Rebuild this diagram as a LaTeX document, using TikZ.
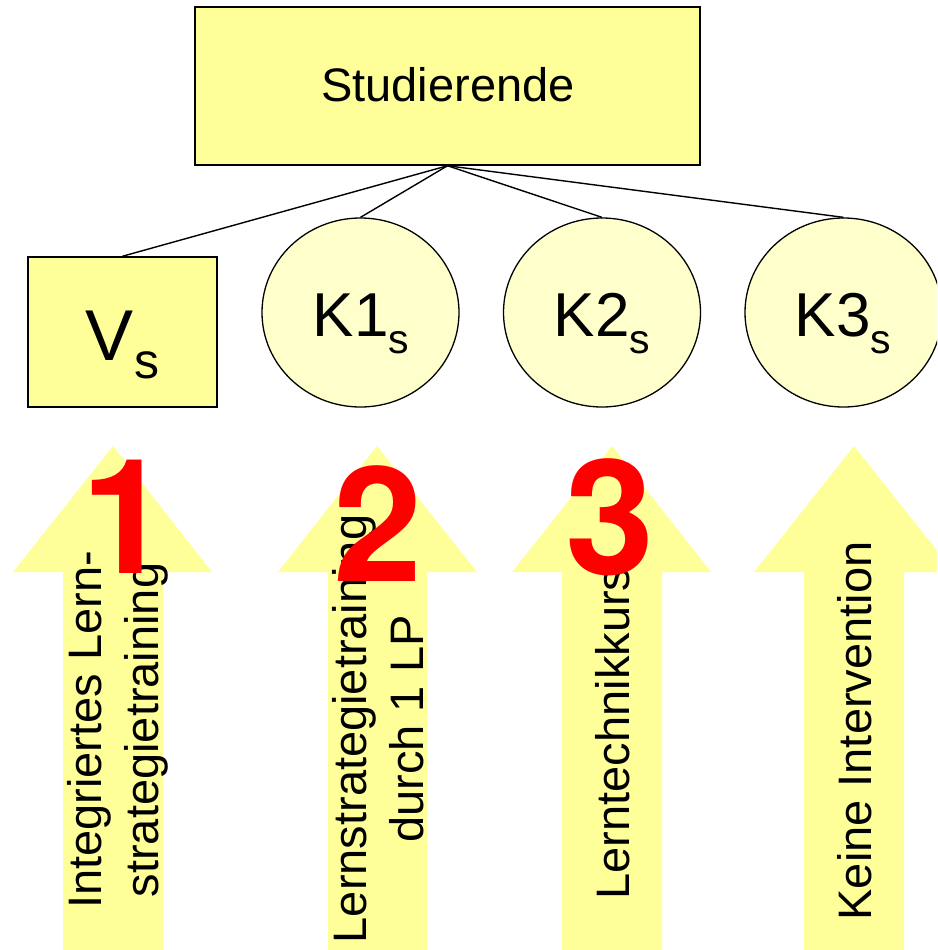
\documentclass[tikz,border=0pt]{standalone}
\usepackage{fontspec}
\setmainfont{Liberation Sans}
\newfontfamily\numfont{TeX Gyre Heros}
\usetikzlibrary{shapes.geometric}
\definecolor{boxy}{HTML}{FFFF99}
\definecolor{elly}{HTML}{FFFFCC}
\definecolor{arry}{HTML}{FFFF99}
\definecolor{numred}{HTML}{FF0000}
\newcommand{\subs}[2]{\raisebox{-#2pt}{\fontsize{#1}{#1}\selectfont s}}
\tikzset{
  boxnode/.style={draw=black, line width=1.5pt, fill=boxy, rectangle, inner sep=0pt},
  ellnode/.style={draw=black, line width=1.3pt, fill=elly, ellipse, inner sep=0pt, minimum width=197pt, minimum height=189pt},
  conn/.style={draw=black, line width=1.4pt},
  lbl/.style={inner sep=0pt, text=black},
  rotlbl/.style={inner sep=0pt, text=black, rotate=90, align=center, font=\fontsize{47}{57}\selectfont},
  arrowshape/.style={fill=arry, draw=none},
  numlbl/.style={inner sep=0pt, text=numred, font=\numfont\fontsize{160}{160}\selectfont\bfseries}
}
\begin{document}
\begin{tikzpicture}[x=1pt, y=-1pt]
\useasboundingbox (0,0) rectangle (937,950);
\clip (0,0) rectangle (937,950);
% top box
\node[boxnode, minimum width=505pt, minimum height=158pt] (top) at (447.5,86) {};
\node[lbl, anchor=base, font=\fontsize{47}{47}\selectfont] (toptxt) at (448,101) {Studierende};
% Vs box
\node[boxnode, minimum width=189pt, minimum height=150pt] (vs) at (122.5,332) {};
\node[lbl, anchor=base, font=\fontsize{72}{72}\selectfont] (vstxt) at (122.5,360) {V\subs{50}{18}};
% ellipses
\node[ellnode] (k1) at (360.5,312.5) {};
\node[ellnode] (k2) at (602,312.5) {};
\node[ellnode] (k3) at (843.5,312.5) {};
\node[lbl, anchor=base, font=\fontsize{62}{62}\selectfont] (k1txt) at (361,336) {K1\subs{41}{17}};
\node[lbl, anchor=base, font=\fontsize{62}{62}\selectfont] (k2txt) at (602,336) {K2\subs{41}{17}};
\node[lbl, anchor=base, font=\fontsize{62}{62}\selectfont] (k3txt) at (843,336) {K3\subs{41}{17}};
% connectors
\draw[conn] (top.south) -- (vs.north);
\draw[conn] (top.south) -- (k1.north);
\draw[conn] (top.south) -- (k2.north);
\draw[conn] (top.south) -- (k3.north);
% arrows
\fill[arrowshape] (113,446) -- (212,572) -- (163,572) -- (163,950) -- (63,950) -- (63,572) -- (13,572) -- cycle;
\fill[arrowshape] (377,446) -- (477,572) -- (427,572) -- (427,950) -- (328,950) -- (328,572) -- (278,572) -- cycle;
\fill[arrowshape] (612,446) -- (711,572) -- (662,572) -- (662,950) -- (562,950) -- (562,572) -- (512,572) -- cycle;
\fill[arrowshape] (854,446) -- (954,572) -- (904,572) -- (904,950) -- (804,950) -- (804,572) -- (754,572) -- cycle;
% arrow texts
\node[rotlbl] (a1txt) at (118,730) {Integriertes Lern-\\strategietraining};
\node[rotlbl] (a2txt) at (378.5,729) {Lernstrategietraining\\durch 1 LP};
\node[rotlbl] (a3txt) at (613,733.5) {Lerntechnikkurs};
\node[rotlbl] (a4txt) at (855,731) {Keine Intervention};
% numbers
\node[numlbl, anchor=base] (n1) at (126,573) {1};
\node[numlbl, anchor=base] (n2) at (377.5,581) {2};
\node[numlbl, anchor=base] (n3) at (610,574) {3};
\end{tikzpicture}
\end{document}
